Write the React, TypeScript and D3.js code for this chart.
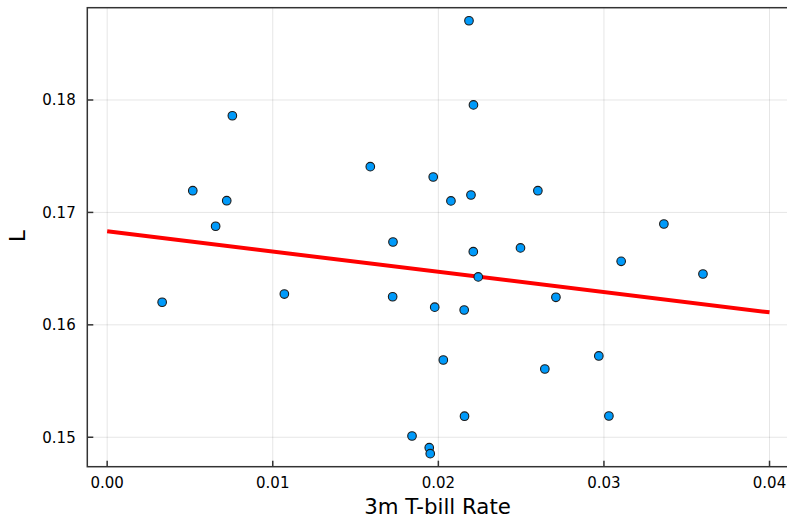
import React from "react";
import * as d3 from "d3";

const tbill = [
  0.00332, 0.00517, 0.00655, 0.00722, 0.00756, 0.0107, 0.01589, 0.01726,
  0.01724, 0.01969, 0.01978, 0.02076, 0.0203, 0.01841, 0.01945, 0.01951,
  0.02185, 0.02212, 0.02197, 0.02211, 0.02241, 0.02156, 0.02158, 0.02496,
  0.02601, 0.0271, 0.02643, 0.02969, 0.0303, 0.03104, 0.03362, 0.03598,
];
const lValues = [
  0.16201, 0.17193, 0.16877, 0.17104, 0.1786, 0.16274, 0.17407, 0.16737,
  0.1625, 0.17315, 0.16157, 0.17102, 0.15687, 0.15011, 0.14907, 0.14854,
  0.18705, 0.17956, 0.17155, 0.16651, 0.16426, 0.16132, 0.15187, 0.16684,
  0.17193, 0.16245, 0.15607, 0.15723, 0.15189, 0.16565, 0.16897, 0.16452,
];
const fitX = [0, 0.04];
const fitY = [0.16832, 0.16111];
const xTicks = [0, 0.01, 0.02, 0.03, 0.04];
const yTicks = [0.15, 0.16, 0.17, 0.18];

export default function App() {
  const W = 787, H = 517;
  const left = 87.3, right = 789.4, top = 7.7, bottom = 466.7;
  const x = d3.scaleLinear().domain([-0.0012, 0.0412]).range([left, right]);
  const y = d3.scaleLinear().domain([0.14738, 0.18821]).range([bottom, top]);
  const line = d3.line<number>().x((d) => x(fitX[d])).y((d) => y(fitY[d]));
  const font = "'DejaVu Sans', sans-serif";
  const axisColor = "#333";
  return (
    <svg width={W} height={H} style={{ position: "absolute", left: 0, top: 0, background: "#fff" }} fontFamily={font}>
      <rect x={0} y={0} width={W} height={H} fill="#fff" />
      {xTicks.map((t) => (
        <line key={"gx" + t} x1={x(t)} x2={x(t)} y1={top} y2={bottom} stroke="#000" strokeOpacity={0.1} strokeWidth={1} />
      ))}
      {yTicks.map((t) => (
        <line key={"gy" + t} x1={left} x2={right} y1={y(t)} y2={y(t)} stroke="#000" strokeOpacity={0.1} strokeWidth={1} />
      ))}
      <path d={line(fitX.map((_, i) => i)) || ""} fill="none" stroke="#ff0000" strokeWidth={4} />
      {tbill.map((v, i) => (
        <circle key={i} cx={x(v)} cy={y(lValues[i])} r={4.3} fill="#009AFA" stroke="#1a1a1a" strokeWidth={1.1} />
      ))}
      <rect x={left} y={top} width={right - left} height={bottom - top} fill="none" stroke={axisColor} strokeWidth={1.5} />
      {xTicks.map((t) => (
        <g key={"tx" + t}>
          <line x1={x(t)} x2={x(t)} y1={bottom} y2={bottom - 6} stroke={axisColor} strokeWidth={1.5} />
          <text x={x(t)} y={487.7} textAnchor="middle" fontSize={15} fill="#000">
            {t.toFixed(2)}
          </text>
        </g>
      ))}
      {yTicks.map((t) => (
        <g key={"ty" + t}>
          <line x1={left} x2={left + 6} y1={y(t)} y2={y(t)} stroke={axisColor} strokeWidth={1.5} />
          <text x={75.7} y={y(t)} dy="0.36em" textAnchor="end" fontSize={15} fill="#000">
            {t.toFixed(2)}
          </text>
        </g>
      ))}
      <text x={437.5} y={513.5} textAnchor="middle" fontSize={21.3} fill="#000">
        3m T-bill Rate
      </text>
      <text transform={`translate(25,236) rotate(-90)`} textAnchor="middle" fontSize={21.5} fill="#000">
        L
      </text>
    </svg>
  );
}
